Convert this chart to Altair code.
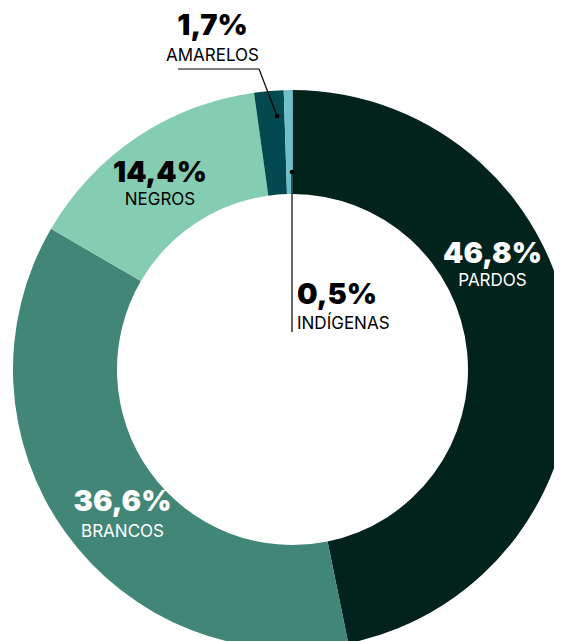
import altair as alt
import pandas as pd

categories = ["PARDOS", "BRANCOS", "NEGROS", "AMARELOS", "INDÍGENAS"]
values = [46.8, 36.6, 14.4, 1.7, 0.5]
pct_labels = ["46,8%", "36,6%", "14,4%", "1,7%", "0,5%"]
colors = ["#02231c", "#428677", "#85cdb2", "#024a50", "#6bc0cb"]

# layout (chart pixel coordinates)
W, H = 546, 633
CX, CY = 284.5, 361.5
R_OUT, R_IN = 279.5, 175.5
label_x = [484.5, 114.5, 152, 204.5, 289]
pct_y = [255, 503, 174, 27, 296]
name_y = [278, 529, 197, 53, 321]
label_align = ["center", "center", "center", "center", "left"]
label_color = ["#ffffff", "#ffffff", "#000000", "#000000", "#000000"]

df = pd.DataFrame({"cat": categories, "value": values, "order": range(len(values)),
                   "pct": pct_labels})

arc = alt.Chart(df).mark_arc(innerRadius=R_IN, outerRadius=R_OUT).encode(
    theta=alt.Theta("value:Q", stack=True),
    order=alt.Order("order:Q"),
    color=alt.Color("cat:N", scale=alt.Scale(domain=categories, range=colors), legend=None),
    x=alt.value(CX), y=alt.value(CY),
)

lab = pd.DataFrame({"cat": categories, "pct": pct_labels, "lx": label_x, "py": pct_y,
                    "ny": name_y})

layers = [arc]
for i in range(len(categories)):
    sub = lab.iloc[[i]]
    layers.append(alt.Chart(sub).mark_text(
        font="Inter", fontWeight=900, fontSize=29, align=label_align[i], baseline="alphabetic",
        color=label_color[i]).encode(
        x=alt.X("lx:Q", scale=None), y=alt.Y("py:Q", scale=None), text="pct:N"))
    layers.append(alt.Chart(sub).mark_text(
        font="Inter", fontWeight=400, fontSize=17, align=label_align[i], baseline="alphabetic",
        color=label_color[i]).encode(
        x=alt.X("lx:Q", scale=None), y=alt.Y("ny:Q", scale=None), text="cat:N"))

seg = pd.DataFrame({
    "x": [170, 251, 284],
    "y": [61, 61, 164],
    "x2": [251, 269, 284],
    "y2": [61, 108, 324],
})
rules = alt.Chart(seg).mark_rule(color="#000000", strokeWidth=1.2).encode(
    x=alt.X("x:Q", scale=None), y=alt.Y("y:Q", scale=None),
    x2="x2:Q", y2="y2:Q")

dots = pd.DataFrame({"x": [269, 284], "y": [108, 164]})
dot = alt.Chart(dots).mark_circle(color="#000000", size=22, opacity=1).encode(
    x=alt.X("x:Q", scale=None), y=alt.Y("y:Q", scale=None))

layers += [rules, dot]

chart = alt.layer(*layers).properties(
    width=W, height=H, padding=0,
    autosize=alt.AutoSizeParams(type="none"),
).configure_view(stroke=None)

chart.save("out.html", embed_options={"renderer": "svg", "actions": False})
